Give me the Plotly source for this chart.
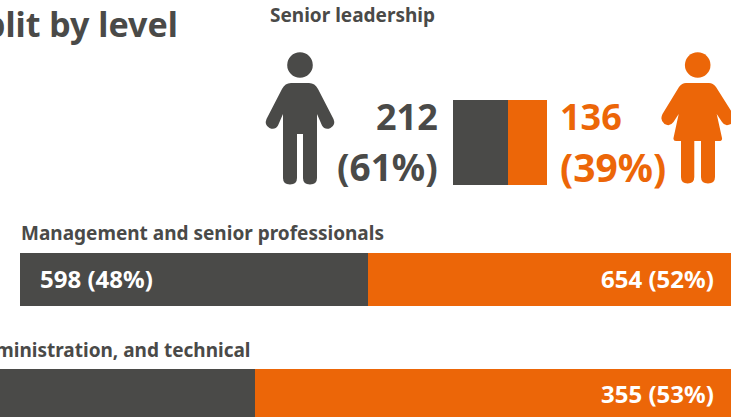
import plotly.graph_objects as go

W, H = 731, 417
DARK, ORANGE = "#4a4a48", "#ec6608"
FONT = "Noto Sans"

title = "Gender split by level"
groups = ["Senior leadership", "Management and senior professionals", "Support, administration, and technical"]
men = [212, 598, 314]
women = [136, 654, 355]
men_pct = [61, 48, 47]
women_pct = [39, 52, 53]
# lengths of the two senior-leadership segments as drawn in the picture
senior_drawn = [204, 144]

def fx(p): return p / W
def fy(p): return 1 - p / H

# pixel extents of the panels and the value range visible in each
axes = [
    dict(x=(453 / W, 547 / W), y=(100, 185), r=(0, 348)),
    dict(x=(0, 1), y=(253, 306), r=(-34.4, 1221.6)),
    dict(x=(0, 1), y=(369, 417), r=(130.3, 656.6)),
]
men_bars = [senior_drawn[0], men[1], men[2]]
women_bars = [senior_drawn[1], women[1], women[2]]

fig = go.Figure()
layout = {}
for i, a in enumerate(axes):
    n = i + 1
    s = "" if i == 0 else str(n)
    layout[f"xaxis{s}"] = dict(domain=a["x"], range=a["r"], visible=False, fixedrange=True, anchor=f"y{s}")
    layout[f"yaxis{s}"] = dict(domain=(fy(a["y"][1]), fy(a["y"][0])), range=(-0.5, 0.5), visible=False,
                               fixedrange=True, anchor=f"x{s}")
    for vals, col, nm in ((men_bars, DARK, "Men"), (women_bars, ORANGE, "Women")):
        fig.add_trace(go.Bar(x=[vals[i]], y=[0], orientation="h", width=1, marker=dict(color=col, line=dict(width=0)),
                             name=nm, showlegend=False, hoverinfo="skip", xaxis=f"x{s}", yaxis=f"y{s}"))

def note(text, x, y, size, color=DARK, anchor="left"):
    fig.add_annotation(text=f"<b>{text}</b>", xref="paper", yref="paper", x=fx(x), y=fy(y), showarrow=False,
                       xanchor=anchor, yanchor="middle", align=anchor, xshift=0, yshift=0,
                       font=dict(family=FONT, size=size, color=color), borderpad=0, borderwidth=0)

note(title, 178, 24, 34, anchor="right")
note(groups[0], 270, 15, 19)
note(groups[1], 21, 233, 19)
note(groups[2], 251, 350, 19, anchor="right")

note(str(men[0]), 438, 116, 36, anchor="right")
note(f"({men_pct[0]}%)", 438, 166, 37, anchor="right")
note(str(women[0]), 560, 116, 36, color=ORANGE)
note(f"({women_pct[0]}%)", 560, 166, 39, color=ORANGE)

note(f"{men[1]} ({men_pct[1]}%)", 40, 278, 24, color="white")
note(f"{women[1]} ({women_pct[1]}%)", 714, 278, 24, color="white", anchor="right")
note(f"{women[2]} ({women_pct[2]}%)", 714, 393, 24, color="white", anchor="right")

def path(cmds):
    out = []
    for c in cmds:
        if isinstance(c, str):
            out.append(c)
        else:
            out.append(" ".join(f"{fx(c[j]):.5f},{fy(c[j+1]):.5f}" for j in range(0, len(c), 2)))
    return " ".join(out)

def icon(d, color):
    fig.add_shape(type="path", path=path(d), xref="paper", yref="paper", fillcolor=color, line=dict(width=0), layer="above")

def head(cx, cy, r, color):
    fig.add_shape(type="circle", xref="paper", yref="paper", x0=fx(cx - r), x1=fx(cx + r), y0=fy(cy + r), y1=fy(cy - r),
                  fillcolor=color, line=dict(width=0))

head(300, 65, 12.8, DARK)
icon(["M", (291, 83), "L", (309, 83), "Q", (315, 83, 318, 89), "L", (333.5, 119), "Q", (336, 125, 330.5, 128),
      "Q", (325, 130.5, 322, 125.5), "L", (317, 114), "L", (317, 178), "Q", (317, 184.5, 310, 184.5),
      "Q", (303, 184.5, 303, 178), "L", (303, 134), "L", (297, 134), "L", (297, 178), "Q", (297, 184.5, 290, 184.5),
      "Q", (283, 184.5, 283, 178), "L", (283, 114), "L", (278, 125.5), "Q", (275, 130.5, 269.5, 128),
      "Q", (264, 125, 266.5, 119), "L", (282, 89), "Q", (285, 83, 291, 83), "Z"], DARK)

head(697.7, 65, 12.8, ORANGE)
icon(["M", (686, 83), "L", (709, 83), "Q", (713, 83, 716, 87), "L", (733, 114), "Q", (736, 120, 731, 124),
      "Q", (725, 127, 722, 122), "L", (716.7, 114), "L", (722, 138), "Q", (722.5, 141, 719, 141), "L", (715, 141),
      "L", (715, 177), "Q", (715, 183.5, 708, 183.5), "Q", (701, 183.5, 701, 177), "L", (701, 141), "L", (694.3, 141),
      "L", (694.3, 177), "Q", (694.3, 183.5, 687.6, 183.5), "Q", (681, 183.5, 681, 177), "L", (681, 141), "L", (676, 141),
      "Q", (673, 141, 673.5, 138), "L", (678.7, 114), "L", (673.5, 122), "Q", (670, 127, 664.5, 124),
      "Q", (659.5, 120, 662.5, 114), "L", (679, 87), "Q", (682, 83, 686, 83), "Z"], ORANGE)

fig.update_layout(width=W, height=H, margin=dict(l=0, r=0, t=0, b=0), barmode="stack", bargap=0,
                  paper_bgcolor="white", plot_bgcolor="white", showlegend=False, **layout)
fig.write_html("out.html", config=dict(displayModeBar=False), post_script="document.body.style.margin='0';")
